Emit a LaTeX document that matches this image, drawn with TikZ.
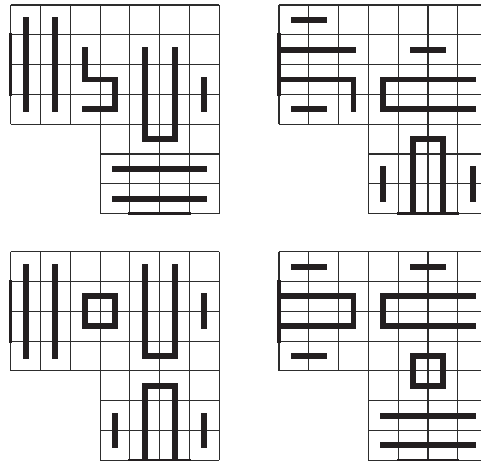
\documentclass[tikz,border=0pt]{standalone}
\usepackage{tikz}
\definecolor{inkdark}{RGB}{35,31,32}
\definecolor{gridgray}{RGB}{45,45,45}

\tikzset{
  gridline/.style={draw=gridgray, line width=1.1pt},
  rimline/.style={draw=inkdark, line width=3.2pt, line cap=rect},
  glyphbar/.style={draw=inkdark, line width=5.6pt, line cap=rect, line join=miter},
}

% L-shaped grid: 7x4 on top, 4x3 below on the right
\newcommand{\lgrid}{%
  \foreach \r in {0,...,4} \draw[gridline] (0,\r) -- (7,\r);
  \foreach \r in {5,6,7} \draw[gridline] (3,\r) -- (7,\r);
  \foreach \c in {0,1,2} \draw[gridline] (\c,0) -- (\c,4);
  \foreach \c in {3,...,7} \draw[gridline] (\c,0) -- (\c,7);
  \draw[rimline] (0,1) -- (0,3);
  \draw[rimline] (4,7) -- (6,7);
}

\begin{document}
\begin{tikzpicture}[x=1cm, y=-1cm]
  \useasboundingbox (0,0) rectangle (16.14,15.44);
  \clip (0,0) rectangle (16.14,15.44);

  % top left
  \begin{scope}[shift={(0.359,0.168)}]
    \lgrid
    \draw[glyphbar] (0.5,0.5) -- (0.5,3.5);
    \draw[glyphbar] (1.5,0.5) -- (1.5,3.5);
    \draw[glyphbar] (2.5,1.5) -- (2.5,2.5) -- (3.5,2.5) -- (3.5,3.5) -- (2.5,3.5);
    \draw[glyphbar] (4.5,1.5) -- (4.5,4.5) -- (5.5,4.5) -- (5.5,1.5);
    \draw[glyphbar] (6.5,2.5) -- (6.5,3.5);
    \draw[glyphbar] (3.5,5.5) -- (6.5,5.5);
    \draw[glyphbar] (3.5,6.5) -- (6.5,6.5);
  \end{scope}

  % top right
  \begin{scope}[shift={(9.362,0.168)}]
    \lgrid
    \draw[glyphbar] (0.5,0.5) -- (1.5,0.5);
    \draw[glyphbar] (0.09,1.5) -- (2.5,1.5);
    \draw[glyphbar] (4.5,1.5) -- (5.5,1.5);
    \draw[glyphbar] (0.09,2.5) -- (2.5,2.5) -- (2.5,3.5);
    \draw[glyphbar] (0.5,3.5) -- (1.5,3.5);
    \draw[glyphbar] (6.5,2.5) -- (3.5,2.5) -- (3.5,3.5) -- (6.5,3.5);
    \draw[glyphbar] (4.5,6.91) -- (4.5,4.5) -- (5.5,4.5) -- (5.5,6.91);
    \draw[glyphbar] (3.5,5.5) -- (3.5,6.5);
    \draw[glyphbar] (6.5,5.5) -- (6.5,6.5);
  \end{scope}

  % bottom left
  \begin{scope}[shift={(0.359,8.445)}]
    \lgrid
    \draw[glyphbar] (0.5,0.5) -- (0.5,3.5);
    \draw[glyphbar] (1.5,0.5) -- (1.5,3.5);
    \draw[glyphbar] (2.5,1.5) rectangle (3.5,2.5);
    \draw[glyphbar] (4.5,0.5) -- (4.5,3.5) -- (5.5,3.5) -- (5.5,0.5);
    \draw[glyphbar] (6.5,1.5) -- (6.5,2.5);
    \draw[glyphbar] (4.5,6.91) -- (4.5,4.5) -- (5.5,4.5) -- (5.5,6.91);
    \draw[glyphbar] (3.5,5.5) -- (3.5,6.5);
    \draw[glyphbar] (6.5,5.5) -- (6.5,6.5);
  \end{scope}

  % bottom right
  \begin{scope}[shift={(9.362,8.445)}]
    \lgrid
    \draw[glyphbar] (0.5,0.5) -- (1.5,0.5);
    \draw[glyphbar] (4.5,0.5) -- (5.5,0.5);
    \draw[glyphbar] (0.09,1.5) -- (2.5,1.5) -- (2.5,2.5) -- (0.09,2.5);
    \draw[glyphbar] (6.5,1.5) -- (3.5,1.5) -- (3.5,2.5) -- (6.5,2.5);
    \draw[glyphbar] (0.5,3.5) -- (1.5,3.5);
    \draw[glyphbar] (4.5,3.5) rectangle (5.5,4.5);
    \draw[glyphbar] (3.5,5.5) -- (6.5,5.5);
    \draw[glyphbar] (3.5,6.5) -- (6.5,6.5);
  \end{scope}
\end{tikzpicture}
\end{document}
